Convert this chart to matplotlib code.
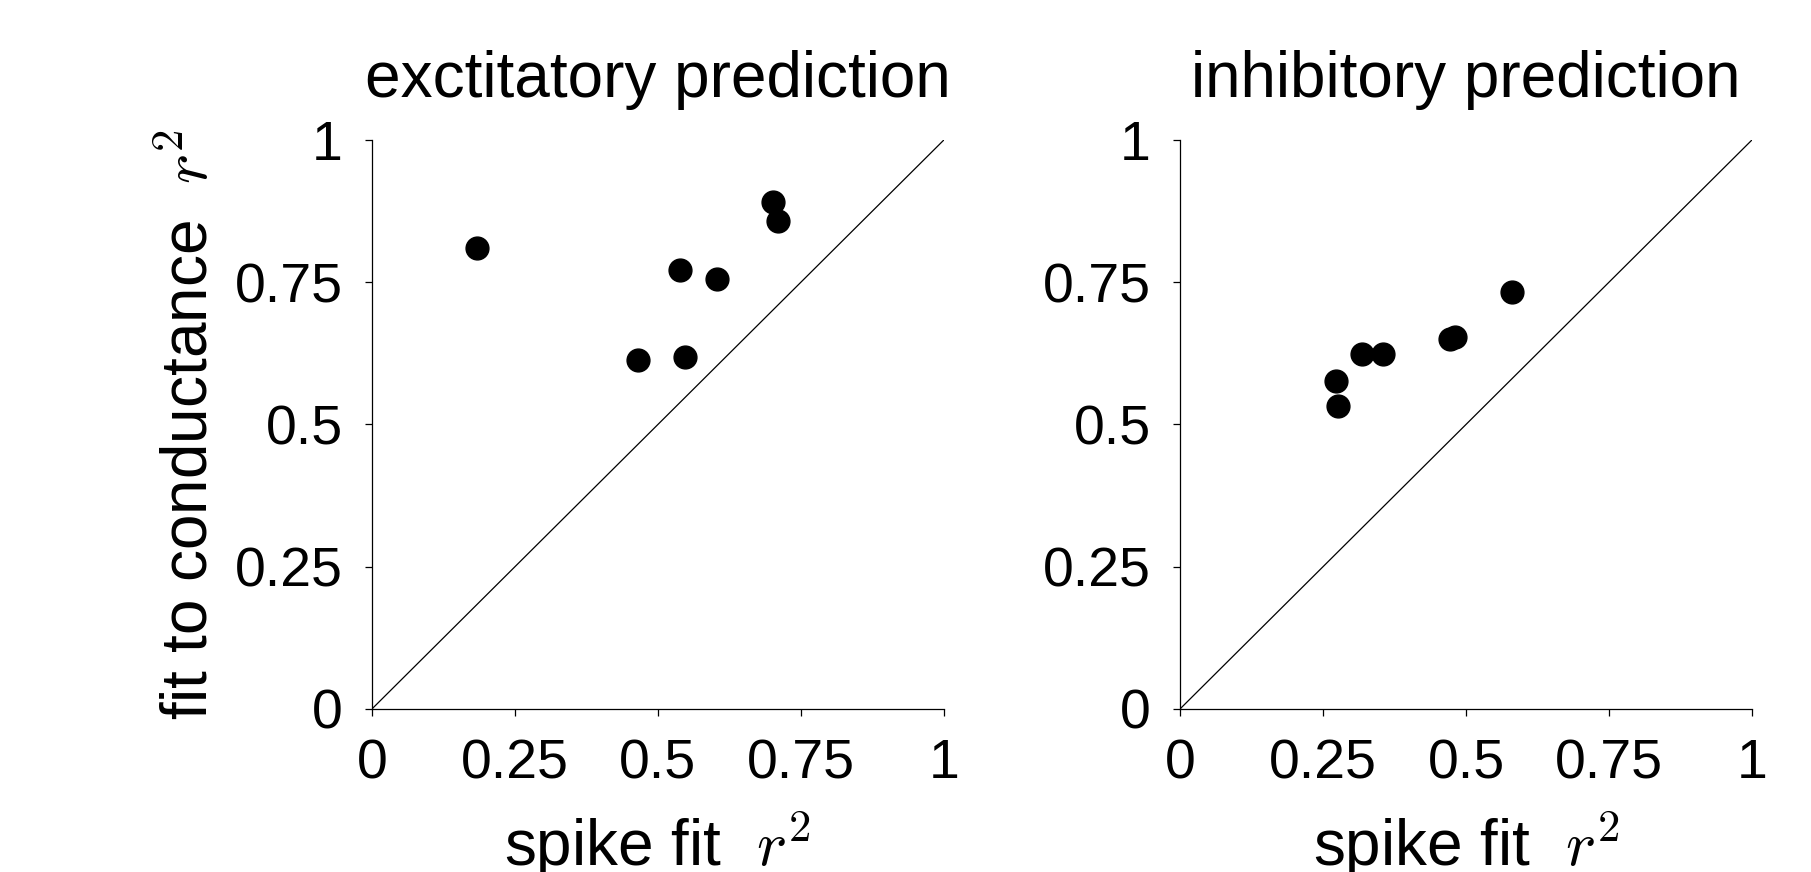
import matplotlib
matplotlib.use("Agg")
import matplotlib.pyplot as plt

plt.rcParams['font.family'] = ['Liberation Sans', 'DejaVu Sans']
plt.rcParams['mathtext.fontset'] = 'cm'

# r^2 values
exc_spike = [0.184, 0.465, 0.538, 0.548, 0.603, 0.701, 0.710]
exc_cond = [0.810, 0.613, 0.772, 0.619, 0.756, 0.891, 0.858]

inh_spike = [0.273, 0.277, 0.318, 0.355, 0.472, 0.481, 0.581]
inh_cond = [0.576, 0.532, 0.623, 0.624, 0.651, 0.654, 0.733]

ticks = [0, 0.25, 0.5, 0.75, 1]
tick_labels = ['0', '0.25', '0.5', '0.75', '1']
titles = ['exctitatory prediction', 'inhibitory prediction']

fig = plt.figure(figsize=(18.11, 8.72), dpi=100)
ax1 = fig.add_axes([0.2054, 0.187, 0.3158, 0.6525])
ax2 = fig.add_axes([0.6516, 0.187, 0.3158, 0.6525])

tick_fs = 40
lab_fs = 46
for ax, xs, ys, title in [(ax1, exc_spike, exc_cond, titles[0]),
                          (ax2, inh_spike, inh_cond, titles[1])]:
    ax.plot([0, 1], [0, 1], color='black', lw=0.9)
    ax.scatter(xs, ys, s=270, color='black', zorder=3, clip_on=False)
    ax.set_xlim(0, 1)
    ax.set_ylim(0, 1)
    ax.set_xticks(ticks)
    ax.set_xticklabels(tick_labels)
    ax.set_yticks(ticks)
    ax.set_yticklabels(tick_labels)
    ax.spines['top'].set_visible(False)
    ax.spines['right'].set_visible(False)
    for s in ['left', 'bottom']:
        ax.spines[s].set_linewidth(0.9)
    ax.tick_params(direction='out', length=5, width=0.9, labelsize=tick_fs, pad=16)
    ax.set_title(title, fontsize=lab_fs, pad=31)
    # the reference clips the bottom of these labels slightly too
    ax.set_xlabel('spike fit  $r^2$', fontsize=lab_fs, labelpad=14)

ax1.set_ylabel('fit to conductance  $r^2$', fontsize=lab_fs, labelpad=10)

fig.savefig('out.png', dpi=100)
